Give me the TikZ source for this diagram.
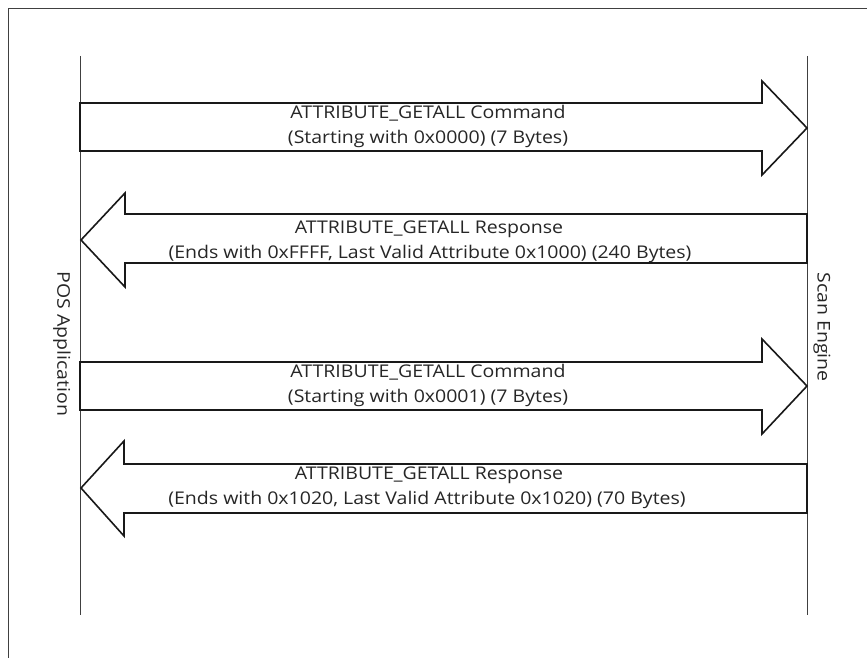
\documentclass[tikz,border=0pt]{standalone}
\usepackage{fontspec}
\setmainfont{Open Sans}[FakeStretch=1.115]
\begin{document}
\begin{tikzpicture}[x=1pt,y=-1pt,
  lifeline/.style={draw=black!75,line width=1pt},
  msgarrow/.style={draw=black!90,line width=1.6pt,line join=miter,fill=white},
  lbl/.style={font=\fontsize{17.5}{20}\selectfont,anchor=base,inner sep=0pt,text=black!85},
  side/.style={font=\fontsize{17.5}{20}\selectfont,rotate=-90,inner sep=0pt,text=black!85}]
\useasboundingbox (0,0) rectangle (867,658);
\fill[white] (0,0) rectangle (867,658);
% frame
\draw[black!75,line width=1pt] (8,658) -- (8,9) -- (867,9);
% lifelines
\coordinate (posTop) at (80,56);
\coordinate (posBot) at (80,615);
\coordinate (scanTop) at (807,56);
\coordinate (scanBot) at (807,615);
\draw[lifeline] (posTop) -- (posBot);
\draw[lifeline] (scanTop) -- (scanBot);
% arrow 1
\draw[msgarrow] (80,103) -- (762,103) -- (762,81) -- (807,128) -- (762,175) -- (762,151) -- (80,151) -- cycle;
% arrow 2
\draw[msgarrow] (807,214) -- (125,214) -- (125,193) -- (81,240) -- (125,287) -- (125,263) -- (807,263) -- cycle;
% arrow 3
\draw[msgarrow] (80,362) -- (762,362) -- (762,339) -- (807,386) -- (762,434) -- (762,410) -- (80,410) -- cycle;
% arrow 4
\draw[msgarrow] (807,464) -- (124,464) -- (124,441) -- (81,488) -- (124,536) -- (124,513) -- (807,513) -- cycle;
% labels
\node[lbl] (m1a) at (428,119) {ATTRIBUTE\_GETALL Command};
\node[lbl] (m1b) at (428,143) {(Starting with 0x0000) (7 Bytes)};
\node[lbl] (m2a) at (429,233) {ATTRIBUTE\_GETALL Response};
\node[lbl] (m2b) at (430,258) {(Ends with 0xFFFF, Last Valid Attribute 0x1000) (240 Bytes)};
\node[lbl] (m3a) at (428,377) {ATTRIBUTE\_GETALL Command};
\node[lbl] (m3b) at (428,402) {(Starting with 0x0001) (7 Bytes)};
\node[lbl] (m4a) at (429,479) {ATTRIBUTE\_GETALL Response};
\node[lbl] (m4b) at (427,504) {(Ends with 0x1020, Last Valid Attribute 0x1020) (70 Bytes)};
\node[side] (pos) at (62,344) {POS Application};
\node[side] (scan) at (822,327) {Scan Engine};
\end{tikzpicture}
\end{document}
